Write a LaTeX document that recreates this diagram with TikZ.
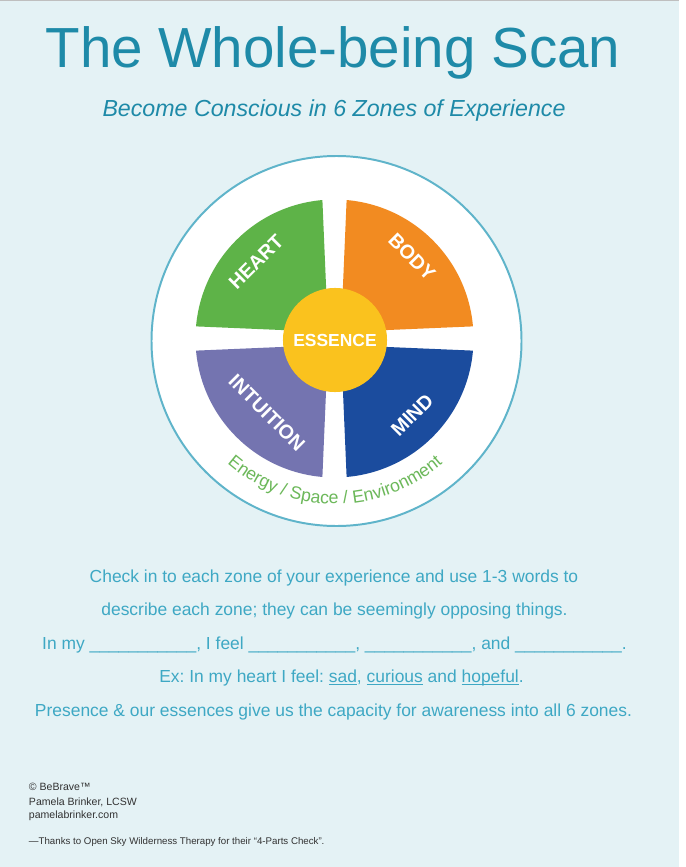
\documentclass[tikz,border=0pt]{standalone}
\usepackage{fontspec}
\setmainfont{Liberation Sans}
\usetikzlibrary{positioning, calc, decorations.text}
\definecolor{panel}{RGB}{228,242,245}
\definecolor{titleblue}{RGB}{30,138,168}
\definecolor{textblue}{RGB}{62,168,196}
\definecolor{ringblue}{RGB}{95,180,202}
\definecolor{heartgreen}{RGB}{94,179,72}
\definecolor{bodyorange}{RGB}{242,139,33}
\definecolor{intuitionpurple}{RGB}{116,116,176}
\definecolor{mindblue}{RGB}{27,76,158}
\definecolor{essenceyellow}{RGB}{250,194,30}
\definecolor{envgreen}{RGB}{108,184,90}
\definecolor{footgray}{RGB}{50,50,50}
\newcommand{\blank}{\textunderscore\textunderscore\textunderscore\textunderscore\textunderscore\textunderscore\textunderscore\textunderscore\textunderscore\textunderscore\textunderscore}
\newcommand{\word}[1]{\underline{\smash{#1}}}

\begin{document}
\frenchspacing
\begin{tikzpicture}[x=0.025cm, y=-0.025cm,
      bodytext/.style={anchor=base, text=textblue, font=\fontsize{12.4}{15}\selectfont},
      zonelabel/.style={text=white, font=\bfseries\fontsize{14}{16}\selectfont},
      footline/.style={anchor=base west, text=footgray, font=\fontsize{7.5}{9}\selectfont}]
      % page
      \useasboundingbox (0,0) rectangle (685,867);
      \fill[white] (0,0) rectangle (685,867);
      \fill[panel] (0,1) rectangle (679,867);
      \fill[gray!50] (0,0) rectangle (679,1);
      % title
      \node[anchor=base, text=titleblue, font=\fontsize{40.2}{48}\selectfont] (title) at (333,67) {The Whole-being Scan};
      \node[anchor=base, text=titleblue, font=\itshape\fontsize{16.5}{20}\selectfont] (subtitle) at (334,116) {Become Conscious in 6 Zones of Experience};
      % wheel
      \coordinate (c) at (334.5,338.5);
      \draw[ringblue, line width=1.4pt, fill=white] (336.5,341) circle[radius=185];
      \fill[heartgreen] ($(c)+(-6.5,-6.5)$) -- ($(c)+(185:139)$) arc[start angle=185, end angle=265, radius=139] -- cycle;
      \fill[bodyorange] ($(c)+(6.5,-6.5)$) -- ($(c)+(275:139)$) arc[start angle=275, end angle=355, radius=139] -- cycle;
      \fill[mindblue] ($(c)+(6.5,6.5)$) -- ($(c)+(5:139)$) arc[start angle=5, end angle=85, radius=139] -- cycle;
      \fill[intuitionpurple] ($(c)+(-6.5,6.5)$) -- ($(c)+(95:139)$) arc[start angle=95, end angle=175, radius=139] -- cycle;
      \node[circle, fill=essenceyellow, minimum size=74pt, inner sep=0pt, text=white, font=\bfseries\fontsize{12.4}{14}\selectfont] (essence) at (335,340) {ESSENCE};
      \node[zonelabel, rotate=45] (heart) at (256,262) {HEART};
      \node[zonelabel, rotate=-45] (body) at (412,257) {BODY};
      \node[zonelabel, rotate=-45] (intuition) at (267,413) {INTUITION};
      \node[zonelabel, rotate=45] (mind) at (412,415) {MIND};
      \path[decorate, decoration={text along path, text color=envgreen, text align=center,
            text={|\fontsize{12.6}{15}\selectfont|Energy / Space / Environment}}]
            ($(335,340)+(150:164)$) arc[start angle=150, end angle=30, radius=164];
      % check-in text
      \node[bodytext] (check) at (334,582) {Check in to each zone of your experience and use 1-3 words to};
      \node[bodytext] (describe) at (334.5,615) {describe each zone; they can be seemingly opposing things.};
      \node[bodytext] (fill) at (334.5,649) {In my \blank, I feel \blank, \blank, and \blank.};
      \node[bodytext] (example) at (341.5,682) {Ex: In my heart I feel: \word{sad}, \word{curious} and \word{hopeful}.};
      \node[bodytext] (presence) at (333.5,716) {Presence \& our essences give us the capacity for awareness into all 6 zones.};
      % footer
      \node[footline] (copyright) at (24,790) {© BeBrave™};
      \node[footline] (author) at (24,805) {Pamela Brinker, LCSW};
      \node[footline] (site) at (24,818) {pamelabrinker.com};
      \node[footline, font=\fontsize{6.9}{8}\selectfont] (thanks) at (24,844) {—Thanks to Open Sky Wilderness Therapy for their “4-Parts Check”.};
  \end{tikzpicture}
\end{document}
